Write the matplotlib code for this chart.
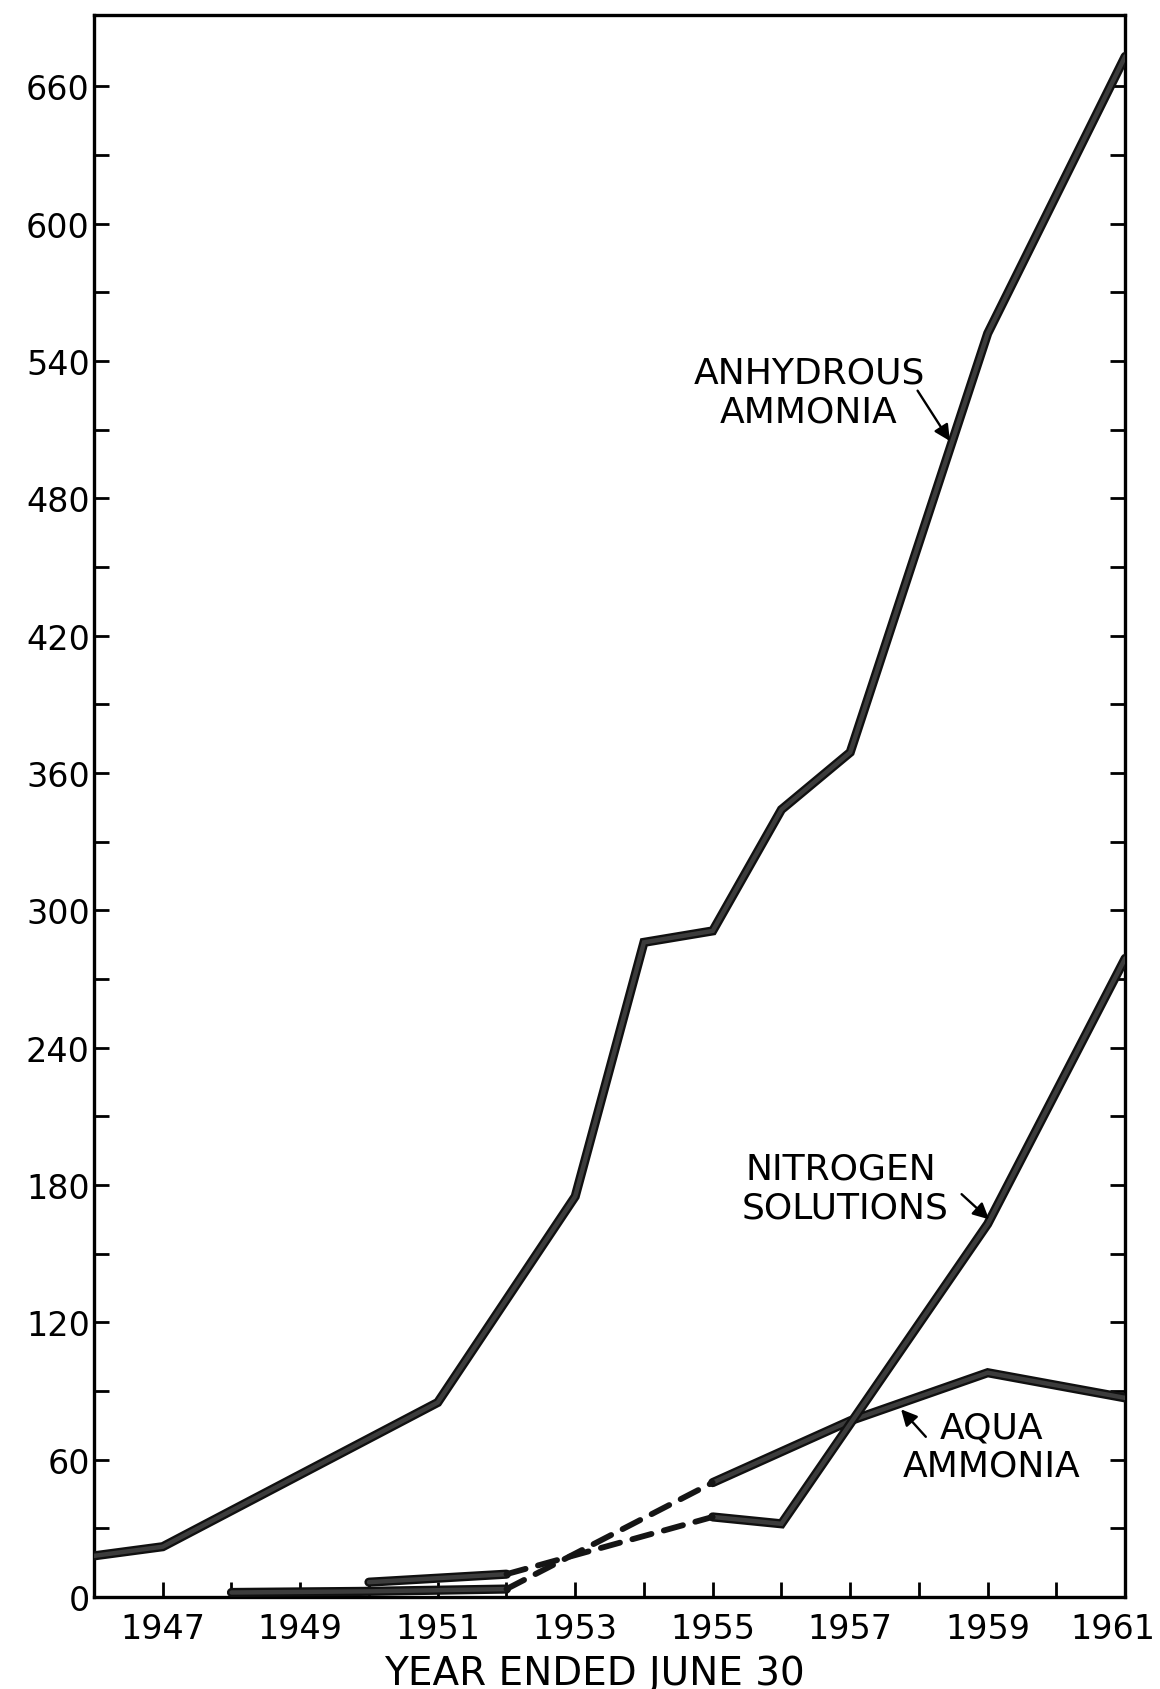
import matplotlib
matplotlib.use("Agg")
import matplotlib.pyplot as plt
from matplotlib import patheffects as pe
from matplotlib import transforms
from matplotlib.ticker import FixedLocator

# values (year ended June 30)
anhydrous_years = [1946, 1947, 1951, 1953, 1954, 1955, 1956, 1957, 1959, 1961]
anhydrous = [18, 22, 85, 175, 286, 291, 344, 369, 552, 673]

aqua_early_years = [1948, 1950, 1952]
aqua_early = [2, 2.5, 3.5]
aqua_years = [1955, 1957, 1959, 1961]
aqua = [50, 77, 98, 87]

nitro_early_years = [1950, 1952]
nitro_early = [6.5, 10]
nitro_years = [1955, 1956, 1959, 1961]
nitro = [35, 32, 163, 279]

x_labels = [1947, 1949, 1951, 1953, 1955, 1957, 1959, 1961]
x_minor = [1948, 1950, 1952, 1954, 1956, 1958, 1960]
y_labels = list(range(0, 661, 60))
y_minor = list(range(30, 661, 60))

ink = "#3c3c3c"
pen = [pe.Stroke(linewidth=6.6, foreground="#101010"), pe.Normal()]


def solid(ax, x, y):
    ax.plot(x, y, color=ink, lw=3.2, solid_capstyle="round",
            solid_joinstyle="miter", path_effects=pen, zorder=3)


def dashed(ax, x, y):
    ax.plot(x, y, color="#151515", lw=4.2, dashes=(3.4, 2.2),
            dash_capstyle="round", zorder=3)


fig = plt.figure(figsize=(11.6, 16.9), dpi=100)
ax = fig.add_axes([0.081, 0.0544, 0.889, 0.936])

solid(ax, anhydrous_years, anhydrous)
solid(ax, aqua_early_years, aqua_early)
solid(ax, aqua_years, aqua)
solid(ax, nitro_early_years, nitro_early)
solid(ax, nitro_years, nitro)
dashed(ax, [aqua_early_years[-1], aqua_years[0]], [aqua_early[-1], aqua[0]])
dashed(ax, [nitro_early_years[-1], nitro_years[0]], [nitro_early[-1], nitro[0]])

ax.set_xlim(1946, 1961)
ax.set_ylim(0, 691)
ax.xaxis.set_major_locator(FixedLocator(x_labels))
ax.xaxis.set_minor_locator(FixedLocator(x_minor))
ax.yaxis.set_major_locator(FixedLocator(y_labels))
ax.yaxis.set_minor_locator(FixedLocator(y_minor))
ax.tick_params(which="both", direction="in", length=11, width=2,
               right=True, top=False, labelsize=24)
ax.tick_params(axis="x", which="major", pad=11)
ax.tick_params(axis="y", which="major", pad=3)
for s in ax.spines.values():
    s.set_linewidth(2.4)

# pull the last year label inside the figure
fig.canvas.draw()
last = ax.get_xticklabels()[-1]
last.set_transform(last.get_transform()
                   + transforms.ScaledTranslation(-0.12, 0, fig.dpi_scale_trans))

lab = dict(fontsize=26, ha="center", va="center", color="black")
ax.text(1956.40, 535, "ANHYDROUS", **lab)
ax.text(1956.40, 518, "AMMONIA", **lab)
ax.text(1956.86, 187, "NITROGEN", **lab)
ax.text(1956.92, 170, "SOLUTIONS", **lab)
ax.text(1959.05, 74, "AQUA", **lab)
ax.text(1959.05, 57.5, "AMMONIA", **lab)

arrow = dict(arrowstyle="-|>", lw=1.7, color="black", mutation_scale=24,
             shrinkA=0, shrinkB=0)
ax.annotate("", xy=(1958.45, 505), xytext=(1957.98, 527), arrowprops=arrow)
ax.annotate("", xy=(1959.02, 165), xytext=(1958.62, 176), arrowprops=arrow)
ax.annotate("", xy=(1957.74, 82), xytext=(1958.10, 70), arrowprops=arrow)

ax.set_xlabel("YEAR ENDED JUNE 30", fontsize=28, va="top")
ax.xaxis.set_label_coords(0.485, -0.036)

fig.savefig("out.png", dpi=100)
